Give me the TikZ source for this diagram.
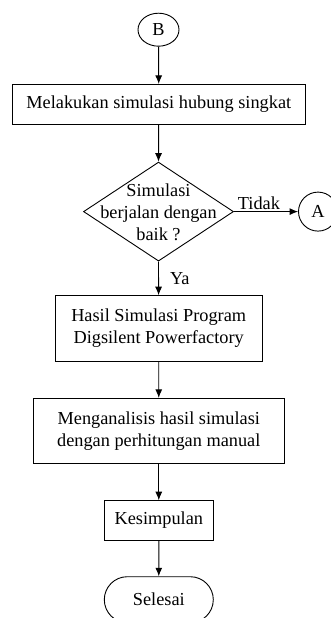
\documentclass[tikz,border=0pt]{standalone}
\usepackage{fontspec}
\setmainfont{Liberation Serif}
\usetikzlibrary{shapes.geometric,shapes.misc,arrows.meta}
\begin{document}
\begin{tikzpicture}[x=1pt,y=-1pt,
  every node/.style={font=\fontsize{18.3}{22}\selectfont},
  shp/.style={draw, line width=0.9pt, align=center, inner sep=0pt},
  proc/.style={shp, rectangle},
  arr/.style={-{Latex[length=8.5pt,width=7pt]}, line width=0.9pt}]
\useasboundingbox (0,0) rectangle (331,618);

\node[shp, ellipse, minimum width=41pt, minimum height=33pt] (B) at (158.5,29.7) {B};
\node[proc, minimum width=293.7pt, minimum height=39.7pt] (p1) at (158.8,104.2) {Melakukan simulasi hubung singkat};
\node[shp, diamond, minimum width=150pt, minimum height=99pt] (d) at (158.5,211.6) {};
\node[align=center, inner sep=0pt] (dt) at (158.5,212) {Simulasi\\berjalan dengan\\baik ?};
\node[shp, circle, minimum size=39pt] (A) at (318,211.6) {A};
\node[proc, minimum width=207.3pt, minimum height=65.3pt] (p2) at (158.7,328.3) {Hasil Simulasi Program\\Digsilent Powerfactory};
\node[proc, minimum width=251pt, minimum height=65pt] (p3) at (158.8,430.8) {Menganalisis hasil simulasi\\dengan perhitungan manual};
\node[proc, minimum width=109pt, minimum height=39.3pt] (p4) at (158.8,520.3) {Kesimpulan};
\node[shp, rounded rectangle, minimum width=109pt, minimum height=46pt] (end) at (158.8,599.7) {Selesai};

\draw[arr] (B) -- (p1);
\draw[arr] (p1) -- (d.north);
\draw[arr] (d.east) -- node[above, pos=0.39, inner sep=1pt] {Tidak} (A);
\draw[arr] (d.south) -- node[right, midway, xshift=10pt, inner sep=1pt] {Ya} (p2);
\draw[arr] (p2) -- (p3);
\draw[arr] (p3) -- (p4);
\draw[arr] (p4) -- (end);
\end{tikzpicture}
\end{document}
